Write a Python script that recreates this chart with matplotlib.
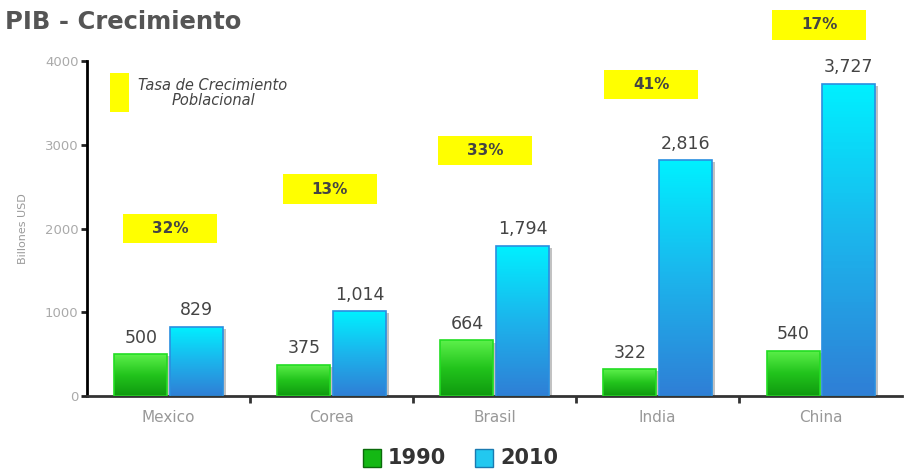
import numpy as np
import matplotlib.pyplot as plt
from matplotlib.patches import Rectangle
from matplotlib.colors import LinearSegmentedColormap

paises = ['Mexico', 'Corea', 'Brasil', 'India', 'China']
pib_1990 = [500, 375, 664, 322, 540]
pib_2010 = [829, 1014, 1794, 2816, 3727]
etiq_1990 = ['500', '375', '664', '322', '540']
etiq_2010 = ['829', '1,014', '1,794', '2,816', '3,727']
tasa_pob = ['32%', '13%', '33%', '41%', '17%']
tasa_y = [2000, 2470, 2930, 3720, 4430]
tasa_x = [0.51, 1.49, 2.44, 3.46, 4.49]

verde = LinearSegmentedColormap.from_list('v', ['#0f9a0f', '#22c41c', '#5cf04a'])
azul = LinearSegmentedColormap.from_list('a', ['#2f7fd6', '#1cb4ec', '#00f0ff'])

fig = plt.figure(figsize=(9.14, 4.70), dpi=100)
ax = fig.add_axes([0.0952, 0.1574, 0.892, 0.7128])
ax.set_xlim(0, 5)
ax.set_ylim(0, 4000)

x = np.arange(len(paises)) + 0.5
w = 0.325
grad = np.linspace(0, 1, 100).reshape(-1, 1)


def barra(xc, h, cmap, edge):
    x0 = xc - w / 2
    # sombra
    ax.add_patch(Rectangle((x0 + 0.02, 0), w, h - 25, facecolor='#9a9a9a',
                           edgecolor='none', zorder=1, alpha=0.6))
    im = ax.imshow(grad, cmap=cmap, aspect='auto', origin='lower',
                   extent=(x0, x0 + w, 0, h), zorder=2)
    r = Rectangle((x0, 0), w, h, facecolor='none', edgecolor=edge, lw=1.2, zorder=3)
    ax.add_patch(r)
    im.set_clip_path(r)


bw, bh = 0.58, 350
for i in range(len(paises)):
    barra(x[i] - 0.17, pib_1990[i], verde, '#22dd22')
    barra(x[i] + 0.17, pib_2010[i], azul, '#2a8fe0')
    ax.text(x[i] - 0.17, pib_1990[i] + 90, etiq_1990[i], ha='center', va='bottom',
            fontsize=12.5, color='#444444')
    ax.text(x[i] + 0.17, pib_2010[i] + 90, etiq_2010[i], ha='center', va='bottom',
            fontsize=12.5, color='#444444')
    ax.add_patch(Rectangle((tasa_x[i] - bw / 2, tasa_y[i] - bh / 2), bw, bh,
                           facecolor='#ffff00', edgecolor='none', clip_on=False, zorder=4))
    ax.text(tasa_x[i], tasa_y[i], tasa_pob[i], ha='center', va='center', fontsize=11,
            fontweight='bold', color='#444444', clip_on=False, zorder=5)

ax.set_xticks(x)
ax.set_xticklabels(paises, fontsize=11, color='#999999')
ax.set_xticks(np.arange(1, 5), minor=True)
ax.tick_params(axis='x', which='major', length=0, pad=10)
ax.tick_params(axis='x', which='minor', length=5, width=2, color='#333333', direction='out')
ax.set_yticks([0, 1000, 2000, 3000, 4000])
ax.tick_params(axis='y', length=4, width=2, color='#222222', labelsize=9.5, labelcolor='#aaaaaa', pad=2)
ax.set_ylabel('Billones USD', fontsize=8, color='#999999', labelpad=12)
for s in ['top', 'right']:
    ax.spines[s].set_visible(False)
ax.spines['left'].set_linewidth(2)
ax.spines['bottom'].set_linewidth(2)
ax.spines['bottom'].set_color('#333333')

# leyenda de tasa
fig.patches.append(Rectangle((110 / 914, 1 - 112 / 470), 19 / 914, 39 / 470,
                             transform=fig.transFigure, facecolor='#ffff00', edgecolor='none'))
fig.text(213 / 914, 1 - 93 / 470, 'Tasa de Crecimiento\nPoblacional', ha='center', va='center',
         fontsize=10.5, style='italic', color='#444444', linespacing=1.05)

fig.text(5 / 914, 1 - 22 / 470, 'PIB - Crecimiento', ha='left', va='center',
         fontsize=17.5, fontweight='bold', color='#555555')

# leyenda inferior
fig.patches.append(Rectangle((363 / 914, 1 - 467 / 470), 18 / 914, 18 / 470,
                             transform=fig.transFigure, facecolor='#14b814', edgecolor='#0a6a0a', lw=1))
fig.text(388 / 914, 1 - 458 / 470, '1990', ha='left', va='center', fontsize=15,
         fontweight='bold', color='#333333')
fig.patches.append(Rectangle((475 / 914, 1 - 467 / 470), 18 / 914, 18 / 470,
                             transform=fig.transFigure, facecolor='#22c8f0', edgecolor='#1a7ab0', lw=1))
fig.text(500 / 914, 1 - 458 / 470, '2010', ha='left', va='center', fontsize=15,
         fontweight='bold', color='#333333')

fig.savefig('out.png', dpi=100)
